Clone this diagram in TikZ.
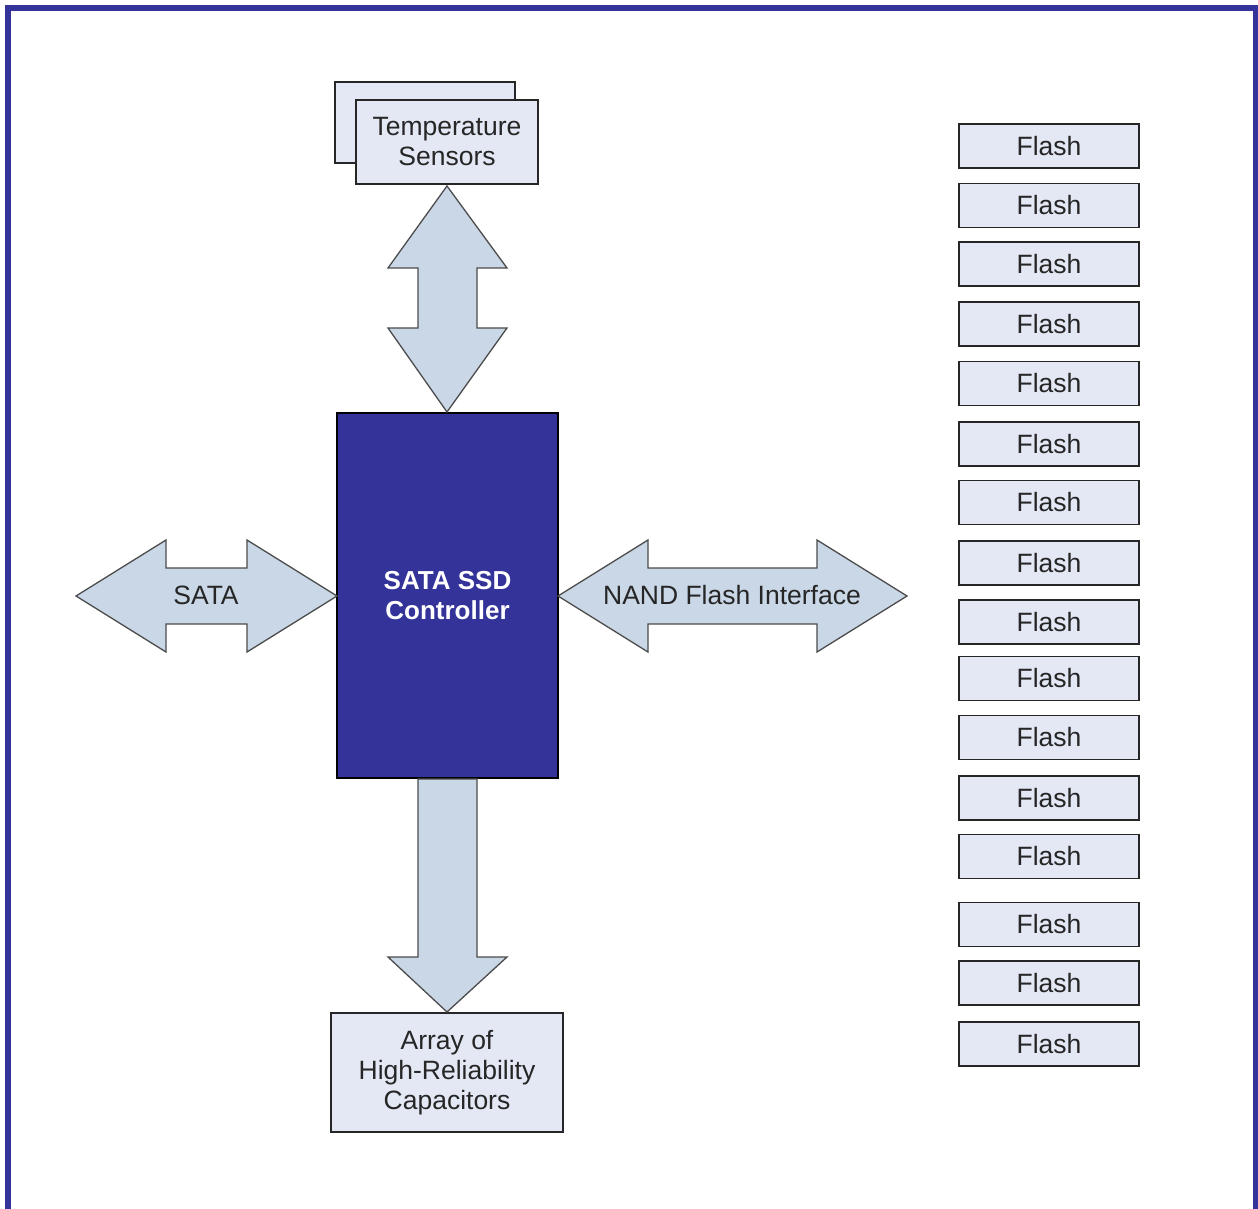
\documentclass[tikz,border=0pt]{standalone}
\usepackage{fontspec}
\setmainfont{Liberation Sans}
\definecolor{frameblue}{HTML}{333399}
\definecolor{boxfill}{HTML}{E4E8F4}
\definecolor{arrowfill}{HTML}{CAD7E6}
\definecolor{inkgray}{HTML}{262626}
\tikzset{
  lbox/.style={draw=inkgray, line width=1.5pt, fill=boxfill, inner sep=0pt, align=center,
    font=\fontsize{26.5}{30}\selectfont, text=inkgray},
  flashbox/.style={lbox, minimum width=180pt, minimum height=44pt},
  blockarrow/.style={draw=black!70, line width=1.3pt, fill=arrowfill, line join=miter},
  arrowlabel/.style={font=\fontsize{26.5}{30}\selectfont, text=inkgray, inner sep=0pt}
}
\begin{document}
\begin{tikzpicture}[x=1pt,y=-1pt]
\useasboundingbox (0,0) rectangle (1258,1209);
\fill[white] (0,0) rectangle (1258,1209);
\draw[frameblue, line width=5.5pt] (8,1230) -- (8,8) -- (1256,8) -- (1256,1230);

% temperature sensors (stacked)
\node[lbox, minimum width=180pt, minimum height=81pt] (tsback) at (425,122.5) {};
\node[lbox, minimum width=182pt, minimum height=84pt] (temp) at (447,142) {Temperature\\Sensors};

% controller
\node[draw=black, line width=1.2pt, fill=frameblue, minimum width=221pt, minimum height=365pt,
  inner sep=0pt, align=center, text=white, font=\bfseries\fontsize{26}{30}\selectfont] (ctrl) at (447.5,595.5) {SATA SSD\\Controller};

% capacitors
\node[lbox, minimum width=232pt, minimum height=119pt] (caps) at (447,1072.5) {Array of\\High-Reliability\\Capacitors};

% vertical double arrow between sensors and controller
\draw[blockarrow] (447,186) -- (507,268) -- (477,268) -- (477,328) -- (507,328) -- (447,412)
  -- (388,328) -- (418,328) -- (418,268) -- (388,268) -- cycle;

% down arrow controller -> capacitors
\draw[blockarrow] (418,779) -- (477,779) -- (477,957) -- (507,957) -- (447,1012)
  -- (388,957) -- (418,957) -- cycle;

% SATA double arrow
\draw[blockarrow] (76,596) -- (166,540) -- (166,568) -- (247,568) -- (247,540) -- (337,596)
  -- (247,652) -- (247,624) -- (166,624) -- (166,652) -- cycle;
\node[arrowlabel] (satalbl) at (206,595) {SATA};

% NAND double arrow
\draw[blockarrow] (558,596) -- (648,540) -- (648,568) -- (817,568) -- (817,540) -- (907,596)
  -- (817,652) -- (817,624) -- (648,624) -- (648,652) -- cycle;
\node[arrowlabel] (nandlbl) at (732,595) {NAND Flash Interface};

% flash column
\foreach \yy [count=\i] in {146,205.5,264,324,383.5,444,502.5,563,622,678.5,737.5,798,856.5,924.5,983,1044}
  \node[flashbox] (flash\i) at (1049,\yy) {Flash};
\end{tikzpicture}
\end{document}
